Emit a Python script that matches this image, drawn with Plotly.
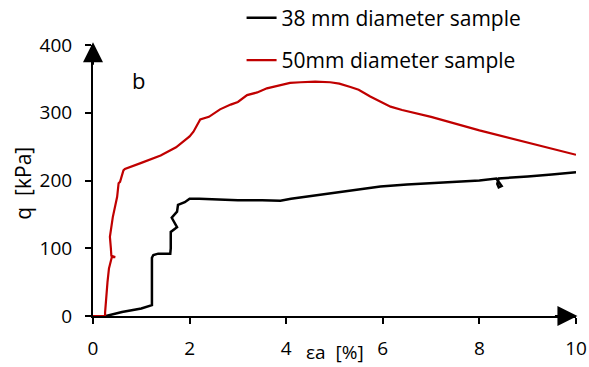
import plotly.graph_objects as go

# 50 mm diameter sample (red)
x50 = [0, 0.25, 0.25, 0.27, 0.30, 0.33, 0.39, 0.46, 0.38, 0.37, 0.35, 0.41, 0.50, 0.53, 0.56, 0.63, 0.66,
       1.0, 1.40, 1.72, 1.85, 2.0, 2.08, 2.22, 2.40, 2.63, 2.85, 3.0, 3.19, 3.40, 3.60, 3.88, 4.08,
       4.30, 4.60, 4.91, 5.10, 5.33, 5.50, 5.74, 5.95, 6.16, 6.40, 6.64, 7.0, 8.0, 9.0, 10.0]
q50 = [0, 0, 5, 28, 50, 70, 87, 87, 89, 100, 117, 146, 176, 196, 198, 215, 217,
       226, 237, 249, 256, 265, 272, 290, 294, 305, 312, 316, 326, 330, 336, 341, 344,
       345, 346, 345, 343, 338, 334, 324, 316, 309, 304, 300, 294, 274, 256, 238]

# 38 mm diameter sample (black)
x38 = [0.27, 0.6, 1.0, 1.2, 1.22, 1.22, 1.25, 1.35, 1.60, 1.61, 1.61, 1.74, 1.63, 1.74, 1.76, 1.9, 2.0,
       2.2, 2.6, 3.0, 3.5, 3.88, 4.1, 4.5, 5.0, 5.5, 5.95, 6.5, 7.0, 7.5, 8.0, 8.35, 8.42, 8.46,
       8.40, 8.37, 8.40, 8.7, 9.0, 9.5, 10.0]
q38 = [0, 6, 11, 15, 16, 86, 90, 92, 92, 100, 124, 131, 145, 154, 164, 168, 173,
       173, 172, 171, 171, 170, 173, 177, 182, 187, 191, 194, 196, 198, 200, 203, 197, 192,
       190, 195, 203, 204, 206, 209, 212]

x_ticks = [0, 2, 4, 6, 8, 10]
y_ticks = [0, 100, 200, 300, 400]

FONT = "Open Sans"

fig = go.Figure()
fig.add_trace(go.Scatter(x=x38, y=q38, mode="lines", name="38 mm diameter sample",
                         line=dict(color="black", width=2.5), legendgroup="a", cliponaxis=False))
fig.add_trace(go.Scatter(x=x50, y=q50, mode="lines", name="50mm diameter sample",
                         line=dict(color="#C00000", width=2.2), legendgroup="b", cliponaxis=False))

fig.update_layout(
    width=589, height=367,
    margin=dict(l=93, r=13, t=45, b=51, autoexpand=False),
    plot_bgcolor="white", paper_bgcolor="white",
    font=dict(family=FONT, size=19, color="black"),
    showlegend=True,
    legend=dict(x=0.3076, y=1.175, xanchor="left", yanchor="top", tracegroupgap=12,
                font=dict(size=21), bgcolor="rgba(0,0,0,0)"),
    xaxis=dict(range=[0, 10], tickvals=x_ticks, showgrid=False, zeroline=False,
               showline=True, linecolor="black", linewidth=2, automargin=False,
               ticks="outside", ticklen=6, tickwidth=2, tickcolor="black", layer="below traces",
               ticklabelstandoff=8, tickfont=dict(size=19)),
    yaxis=dict(range=[0, 400], tickvals=y_ticks, showgrid=False, zeroline=False,
               showline=True, linecolor="black", linewidth=2, automargin=False,
               ticks="outside", ticklen=6, tickwidth=2, tickcolor="black", layer="below traces",
               ticklabelstandoff=9, tickfont=dict(size=19)),
    annotations=[
        dict(text="b", x=0.095, y=0.87, xref="paper", yref="paper", showarrow=False,
             font=dict(size=22), xanchor="center", yanchor="middle"),
        dict(text="εa  [%]", x=0.5, y=-0.133, xref="paper", yref="paper", showarrow=False,
             font=dict(size=19), xanchor="center", yanchor="middle", borderpad=0),
        dict(text="q  [kPa]", x=-0.144, y=0.49, xref="paper", yref="paper", showarrow=False,
             textangle=-90, font=dict(size=21), xanchor="center", yanchor="middle"),
        # axis arrowheads
        dict(x=0, y=1.01, xref="paper", yref="paper", ax=0, ay=24, showarrow=True,
             arrowhead=2, arrowsize=2.0, arrowwidth=2, arrowcolor="black", text=""),
        dict(x=1.003, y=0, xref="paper", yref="paper", ax=-24, ay=0, showarrow=True,
             arrowhead=2, arrowsize=2.0, arrowwidth=2, arrowcolor="black", text=""),
    ],
)

fig.write_html("out.html")
